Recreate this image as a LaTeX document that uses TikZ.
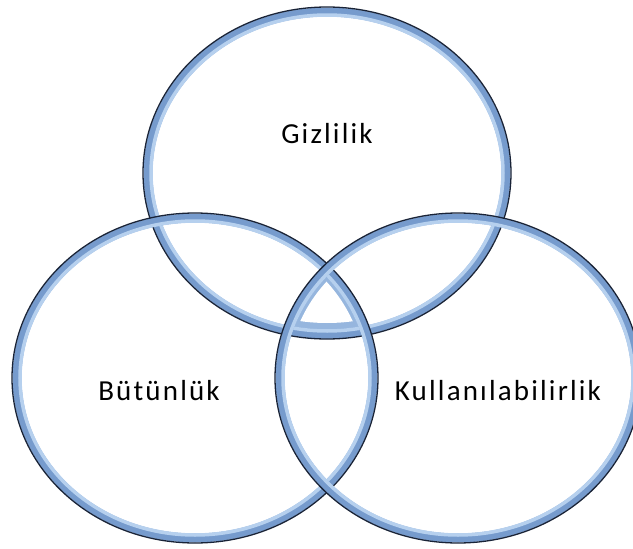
\documentclass[tikz,border=0pt]{standalone}
\usepackage{fontspec}
\setmainfont{Carlito}
\newfontfamily\labelfont[LetterSpace=7.5]{Carlito}
\definecolor{ringdark}{RGB}{25,35,55}
\definecolor{ringband}{RGB}{118,155,205}
\definecolor{ringlight}{RGB}{182,208,238}
\definecolor{lensfill}{RGB}{150,182,222}
\tikzset{
  ringband/.style={draw=ringband, line width=9pt},
  ringedge/.style={draw=ringdark, line width=1.3pt},
  ringshine/.style={draw=ringlight, line width=3.5pt},
  label/.style={font=\labelfont\fontsize{29}{33}\selectfont, text=black, anchor=base, inner sep=0pt}
}
\begin{document}
\begin{tikzpicture}[x=1pt,y=-1pt]
\useasboundingbox (0,0) rectangle (633,549);
% triple intersection bevel
\begin{scope}
  \clip (327,173) ellipse [x radius=184pt, y radius=166pt];
  \clip (195,378) ellipse [x radius=183pt, y radius=165pt];
  \clip (458,378) ellipse [x radius=183pt, y radius=165pt];
  \fill[lensfill] (0,0) rectangle (633,549);
  \clip (327,173) ellipse [x radius=168pt, y radius=150pt];
  \clip (195,378) ellipse [x radius=170pt, y radius=152pt];
  \clip (458,378) ellipse [x radius=170pt, y radius=152pt];
  \fill[white] (0,0) rectangle (633,549);
\end{scope}
% rings
\foreach \cx/\cy/\rx/\ry in {327/173/184/166, 195/378/183/165, 458/378/183/165}{
  \path[ringband] (\cx,\cy) ellipse [x radius=\rx pt-5pt, y radius=\ry pt-5pt];
  \path[ringshine] (\cx,\cy) ellipse [x radius=\rx pt-8pt, y radius=\ry pt-8pt];
  \path[ringedge] (\cx,\cy) ellipse [x radius=\rx pt, y radius=\ry pt];
}
\node[label] (giz) at (327,143) {Gizlilik};
\node[label] (but) at (159,400) {Bütünlük};
\node[label] (kul) at (498,400) {Kullanılabilirlik};
\end{tikzpicture}
\end{document}
